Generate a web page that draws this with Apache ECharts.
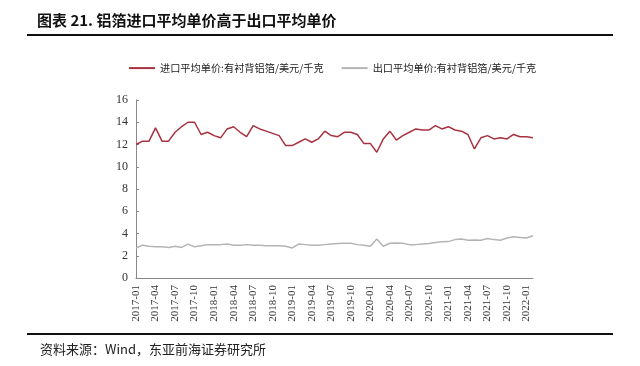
<!DOCTYPE html>
<html><head><meta charset="utf-8">
<script src="https://cdn.jsdelivr.net/npm/echarts@6/dist/echarts.min.js"></script>
<style>html,body{margin:0;padding:0;background:#fff}#c{width:640px;height:366px}</style>
</head><body><div id="c"></div>
<script>
// months 2017-01 .. 2022-02
const categories = [];
for (let y = 2017; y <= 2022; y++) for (let m = 1; m <= 12; m++) {
  if (y === 2022 && m > 2) break;
  categories.push(y + '-' + (m < 10 ? '0' + m : m));
}
const importPrice = [12.0,12.3,12.3,13.5,12.3,12.3,13.1,13.6,14.0,14.0,12.9,13.1,
  12.8,12.6,13.4,13.6,13.1,12.7,13.7,13.4,13.2,13.0,12.8,11.9,
  11.9,12.2,12.5,12.2,12.5,13.2,12.8,12.7,13.1,13.1,12.9,12.1,
  12.1,11.3,12.5,13.2,12.4,12.8,13.1,13.4,13.3,13.3,13.7,13.4,
  13.6,13.3,13.2,12.9,11.6,12.6,12.8,12.5,12.6,12.5,12.9,12.7,
  12.7,12.6];
const exportPrice = [2.7,2.95,2.85,2.8,2.8,2.75,2.85,2.75,3.05,2.8,2.9,3.0,
  3.0,3.0,3.05,2.95,2.95,3.0,2.95,2.95,2.9,2.9,2.9,2.85,
  2.7,3.05,3.0,2.95,2.95,3.0,3.05,3.1,3.12,3.12,3.0,2.95,
  2.85,3.5,2.85,3.12,3.15,3.12,3.0,3.0,3.05,3.1,3.2,3.26,
  3.27,3.45,3.5,3.4,3.42,3.4,3.55,3.45,3.4,3.6,3.7,3.65,
  3.6,3.8];
const yTicks = {min: 0, max: 16, interval: 2};
const seriesNames = ['进口平均单价:有衬背铝箔/美元/千克', '出口平均单价:有衬背铝箔/美元/千克'];

const chart = echarts.init(document.getElementById('c'), null, {renderer: 'canvas'});
chart.setOption({
  animation: false,
  backgroundColor: '#fff',
  graphic: [
    {type: 'text', left: 37, top: 13, style: {text: '图表 21. 铝箔进口平均单价高于出口平均单价', font: 'bold 15px "Noto Sans CJK SC", sans-serif', fill: '#111'}},
    {type: 'line', shape: {x1: 27, y1: 35, x2: 613, y2: 35}, style: {stroke: '#111', lineWidth: 2}},
    {type: 'line', shape: {x1: 27, y1: 334, x2: 613, y2: 334}, style: {stroke: '#111', lineWidth: 2}},
    {type: 'text', left: 40, top: 343, style: {text: '资料来源：Wind，东亚前海证券研究所', font: '13px "Noto Sans CJK SC", serif', fill: '#222'}}
  ],
  legend: {
    top: 58, left: 124, itemWidth: 26, itemHeight: 2, itemGap: 18,
    icon: 'rect',
    textStyle: {fontSize: 10.2, color: '#222', fontFamily: '"Noto Sans CJK SC", sans-serif'},
    data: seriesNames
  },
  grid: {left: 136, right: 107, top: 100, bottom: 88},
  xAxis: {
    type: 'category', data: categories, boundaryGap: false,
    axisLine: {lineStyle: {color: '#888'}},
    axisTick: {show: false},
    axisLabel: {interval: 2, rotate: 90, fontSize: 11, color: '#333', fontFamily: '"Liberation Serif", serif', margin: 7}
  },
  yAxis: {
    type: 'value', min: yTicks.min, max: yTicks.max, interval: yTicks.interval,
    axisLine: {show: true, lineStyle: {color: '#888'}},
    axisTick: {show: true, inside: true, length: 3, lineStyle: {color: '#888'}},
    splitLine: {show: false},
    axisLabel: {fontSize: 12, color: '#333', fontFamily: '"Liberation Serif", serif', margin: 8}
  },
  series: [
    {name: seriesNames[0], type: 'line', data: importPrice, symbol: 'none', lineStyle: {color: '#a8323f', width: 1.5}, itemStyle: {color: '#a8323f'}},
    {name: seriesNames[1], type: 'line', data: exportPrice, symbol: 'none', lineStyle: {color: '#b4b4b4', width: 1.5}, itemStyle: {color: '#b4b4b4'}}
  ]
});
</script></body></html>
